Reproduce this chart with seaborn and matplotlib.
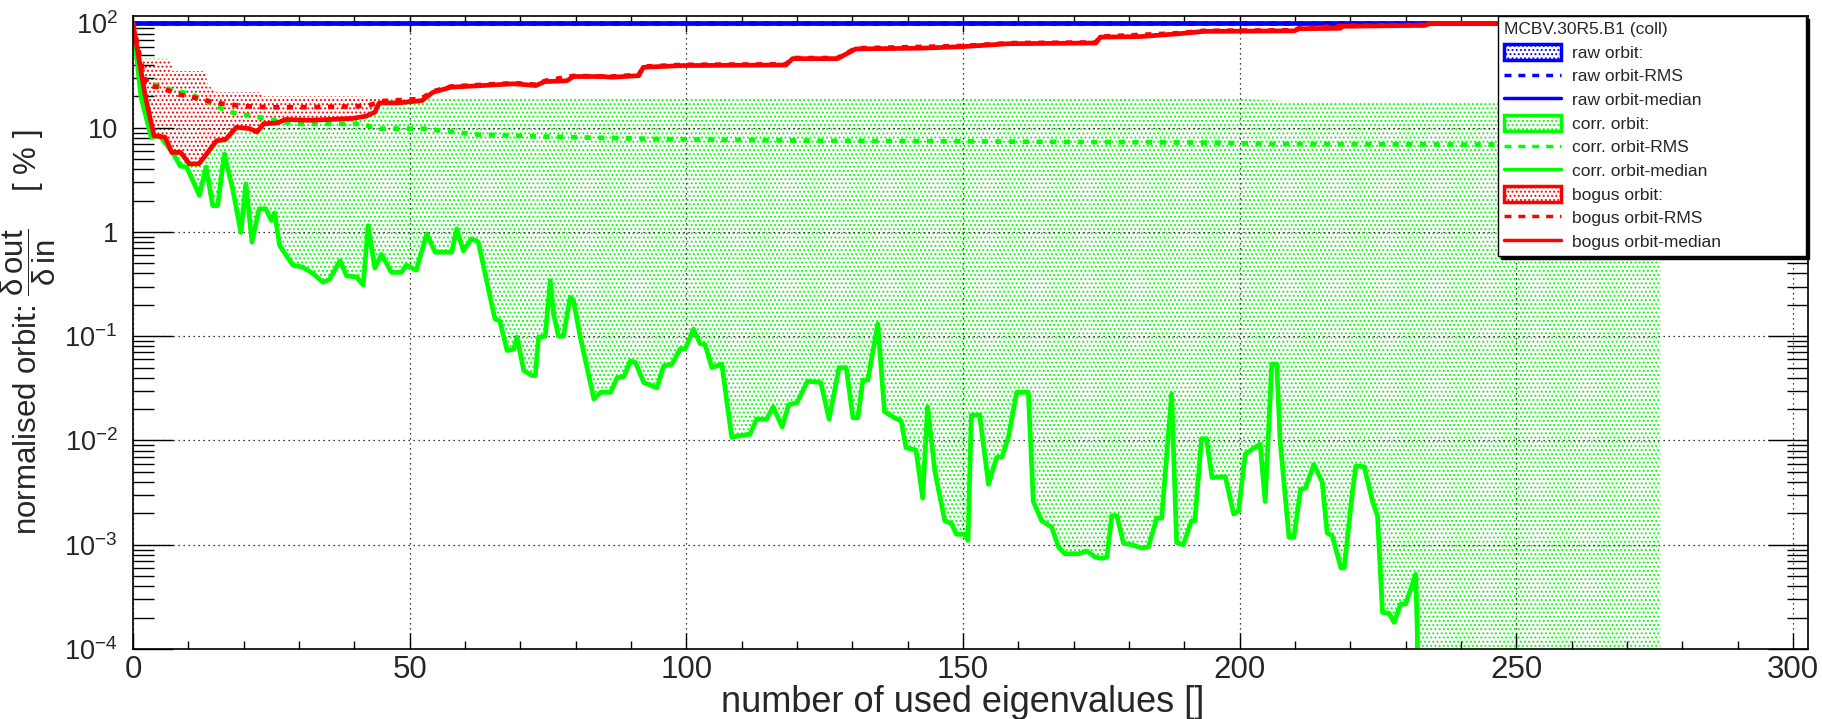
import numpy as np
import matplotlib
matplotlib.use("Agg")
import matplotlib.pyplot as plt
import seaborn as sns
from matplotlib.patches import Patch
from matplotlib.lines import Line2D
from matplotlib.ticker import FixedLocator, FixedFormatter, MultipleLocator, NullFormatter

# ---------------- data ----------------
raw_x = [0, 276]
raw_median = [100, 100]
raw_rms = [100, 100]

corr_median_x = [0, 1.45, 3.3, 4.8, 6.6, 7.5, 8.5, 9.7, 12.0, 13.2, 14.4, 15.3, 16.5, 18.0, 19.5,
                 20.4, 21.5, 22.8, 24.0, 25.0, 25.6, 26.5, 28.9, 30.7, 32.5, 34.3, 35.5, 37.4,
                 38.6, 40.4, 41.6, 42.5, 43.7, 44.9, 46.7, 48.5, 49.4, 51.2, 53.1, 54.6, 57.6,
                 58.5, 59.7, 61.2, 62.4, 65.4, 66.3, 67.6, 68.8, 69.4, 70.6, 72.1, 72.7, 73.3,
                 74.5, 75.4, 76.0, 76.9, 77.8, 79.0, 79.6, 80.8, 83.3, 84.5, 86.3, 87.5, 88.7,
                 89.9, 90.8, 92.3, 94.7, 95.9, 97.4, 98.9, 99.8, 101.3, 102.5, 103.4, 104.6,
                 106.4, 108.2, 109.1, 111.5, 112.7, 114.5, 115.7, 117.3, 118.5, 120.0, 121.9,
                 124.3, 125.8, 127.6, 128.9, 130.1, 131.0, 131.9, 132.8, 134.6, 135.8, 137.6,
                 138.8, 139.7, 141.5, 142.7, 143.6, 144.9, 146.7, 147.9, 148.8, 150.3, 150.9,
                 151.5, 153.0, 154.6, 156.1, 157.0, 158.2, 159.7, 161.8, 162.7, 164.2, 166.0,
                 167.3, 168.4, 170.9, 172.4, 173.9, 175.1, 176.0, 176.9, 177.8, 179.0, 180.5,
                 182.3, 183.5, 185.0, 185.9, 187.7, 188.6, 189.8, 191.3, 191.9, 193.1, 194.0,
                 195.0, 197.4, 198.9, 199.8, 201.0, 202.2, 203.7, 204.6, 205.8, 206.7, 207.3,
                 208.9, 209.8, 211.0, 211.9, 213.4, 214.9, 215.8, 216.7, 218.3, 218.9, 220.4,
                 221.0, 222.5, 224.0, 224.9, 225.8, 227.0, 227.9, 229.1, 230.0, 231.8, 232.1,
                 232.5, 276]
corr_median = [100, 19.6, 8.1, 8.4, 6.3, 5.4, 4.3, 4.2, 2.24, 4.2, 1.79, 1.79, 5.6, 2.6, 0.99,
               2.9, 0.8, 1.67, 1.67, 1.29, 1.52, 0.74, 0.48, 0.46, 0.40, 0.33, 0.35, 0.53,
               0.38, 0.37, 0.31, 1.15, 0.45, 0.61, 0.41, 0.41, 0.48, 0.43, 0.96, 0.64, 0.64,
               1.07, 0.66, 0.86, 0.80, 0.147, 0.14, 0.073, 0.075, 0.098, 0.047, 0.042, 0.042, 0.098,
               0.10, 0.34, 0.164, 0.10, 0.10, 0.236, 0.22, 0.10, 0.025, 0.029, 0.029, 0.040, 0.041,
               0.058, 0.056, 0.036, 0.032, 0.052, 0.054, 0.076, 0.076, 0.117, 0.085, 0.083, 0.050,
               0.054, 0.0107, 0.011, 0.0115, 0.016, 0.016, 0.021, 0.0135, 0.022, 0.023, 0.037,
               0.036, 0.016, 0.050, 0.050, 0.0165, 0.0165, 0.038, 0.038, 0.131, 0.019, 0.0165,
               0.0155, 0.0085, 0.0081, 0.0028, 0.021, 0.0051, 0.0017, 0.0016, 0.00126, 0.00126, 0.0011,
               0.0175, 0.0175, 0.0038, 0.0069, 0.0069, 0.0107, 0.029, 0.029, 0.0026, 0.0017, 0.00148,
               0.00094, 0.00082, 0.00082, 0.00087, 0.00076, 0.00074, 0.00076, 0.0019, 0.0019, 0.00103, 0.0010,
               0.00093, 0.00095, 0.0018, 0.0018, 0.028, 0.00105, 0.0010, 0.0017, 0.0017, 0.0104, 0.0104,
               0.0044, 0.0045, 0.00197, 0.0021, 0.0074, 0.0082, 0.0092, 0.0026, 0.054, 0.054, 0.010,
               0.00118, 0.00118, 0.0034, 0.0035, 0.0059, 0.0040, 0.0013, 0.00122, 0.0006, 0.0006, 0.0033,
               0.0057, 0.0056, 0.0026, 0.0019, 0.000224, 0.00022, 0.00018, 0.00027, 0.00027, 0.00052, 0.000139,
               1e-7, 1e-7]

corr_max_x = [0, 0.5, 6.5, 6.6, 13.0, 13.5, 15.0, 23.0, 23.5, 45.0, 100.0, 200.0, 210.0, 276.0]
corr_max = [100, 46, 46, 35, 35, 26, 22, 22, 20, 19.5, 19.2, 19.0, 17.8, 17.8]

corr_rms_x = [0, 1.75, 5, 10.5, 16.8, 18.9, 21.1, 29, 41, 44.6, 52.5, 62.3, 72, 80, 94.6, 104,
              124.5, 150, 170, 195, 205, 240, 276]
corr_rms = [100, 29.5, 24.4, 21, 14.6, 13.6, 13.1, 10.9, 10.9, 9.8, 9.8, 8.6, 8.3, 8.1, 7.8, 7.7,
            7.5, 7.4, 7.3, 7.2, 7.0, 6.9, 6.9]

bogus_median_x = [0, 2.2, 3.8, 5.8, 7.0, 8.6, 10.2, 11.9, 13.5, 15.1, 16.7, 18.7, 21.1, 22.4, 23.6,
                  26.0, 27.6, 31.6, 35.7, 39.7, 42.1, 43.7, 44.5, 47.8, 52.2, 54.2, 57.5, 63.1, 68.8,
                  72.8, 74.4, 78.4, 79.6, 84.9, 86.5, 91.4, 92.2, 99.4, 118, 119.2, 127.3, 130.6,
                  142.6, 150, 158.3, 174, 174.8, 182.2, 189.3, 193.4, 209.9, 210.7, 218.2, 218.6,
                  233.5, 234.3, 276]
bogus_median = [100, 20.4, 8.4, 8.1, 5.8, 5.8, 4.5, 4.5, 5.8, 7.5, 7.7, 10.1, 9.8, 9.1, 10.9,
                11.1, 12.0, 11.8, 12.0, 12.3, 12.9, 14.1, 17.3, 17.3, 18.2, 21.9, 24.5, 25.4, 26.4,
                25.4, 27.7, 28.2, 31, 31, 30.5, 31.6, 38, 39.5, 40, 46, 46, 57,
                58, 60, 64, 65, 74, 75, 80, 84, 85, 89, 90, 94,
                96, 100, 100]

bogus_max_x = [0, 1.5, 7.0, 7.1, 13.0, 13.5, 15.0, 23.0, 23.5, 40.0, 44.5]
bogus_max = [100, 45, 45, 35, 35, 26, 22, 22, 20, 20, 19.5]
bogus_min_x = [0, 2.2, 3.8, 5.8, 7.0, 8.6, 10.2, 11.9, 13.5, 15.1, 16.7, 18.7, 21.1, 22.4, 23.6,
               26.0, 27.6, 31.6, 35.7, 39.7, 42.1, 43.7, 44.5]
bogus_min = [100, 20.4, 8.4, 8.1, 5.8, 5.8, 4.5, 4.5, 5.8, 7.5, 7.7, 10.1, 9.8, 9.1, 10.9,
             11.1, 12.0, 11.8, 12.0, 12.3, 12.9, 14.1, 17.3]

bogus_rms_x = [0, 2, 3, 5, 8, 12, 15, 20, 25, 30, 40, 43, 45, 52, 54.2, 57.5, 63, 69, 73, 74.4,
               79.6, 86.5, 91.4, 92.2, 99.4, 118, 119.2, 127.3, 130.6, 150, 158.3, 174, 174.8,
               189.3, 193.4, 209.9, 210.7, 218.6, 233.5, 234.3, 276]
bogus_rms = [100, 30.5, 25, 24.5, 21, 19, 17.3, 16.1, 15.7, 15.7, 16, 16.6, 18, 18.9, 22.3, 24.9,
             25.8, 26.8, 25.8, 28.1, 31.4, 31.0, 32.1, 38.6, 40.1, 40.6, 46.6, 46.6, 57.8, 60.8, 64.8,
             65.8, 74.8, 80.8, 85.0, 86.0, 89.8, 94.8, 96.8, 100, 100]

y_tick_values = [1e-4, 1e-3, 1e-2, 1e-1, 1, 10, 100]
y_tick_labels = [r"$\mathregular{10^{-4}}$", r"$\mathregular{10^{-3}}$", r"$\mathregular{10^{-2}}$",
                 r"$\mathregular{10^{-1}}$", "1", "10", r"$\mathregular{10^{2}}$"]
x_tick_values = [0, 50, 100, 150, 200, 250, 300]

legend_title = "MCBV.30R5.B1 (coll)"
legend_labels = ["raw orbit:", "raw orbit-RMS", "raw orbit-median",
                 "corr. orbit:", "corr. orbit-RMS", "corr. orbit-median",
                 "bogus orbit:", "bogus orbit-RMS", "bogus orbit-median"]

# ---------------- style ----------------
sns.set_style("ticks")
plt.rcParams["font.family"] = ["Liberation Sans", "DejaVu Sans"]
plt.rcParams["mathtext.fontset"] = "custom"
plt.rcParams["mathtext.rm"] = "Liberation Sans"
plt.rcParams["mathtext.it"] = "Liberation Sans:italic"
plt.rcParams["mathtext.bf"] = "Liberation Sans:bold"
plt.rcParams["mathtext.sf"] = "Liberation Sans"
plt.rcParams["hatch.linewidth"] = 0.9

BLUE = (0, 0, 1)
GREEN = (0, 1, 0)
RED = (1, 0, 0)
DASH = (0, (1.3, 1.6))

fig = plt.figure(figsize=(18.22, 7.19), dpi=100)
ax = fig.add_axes([133 / 1822, 1 - 649 / 719, (1808 - 133) / 1822, (649 - 16) / 719])
ax.set_yscale("log")

# fills (polygons from upper edge + reversed lower edge)
gx = list(corr_max_x) + list(corr_median_x[::-1])
gy = list(corr_max) + list(corr_median[::-1])
ax.fill(gx, gy, facecolor="white", edgecolor=GREEN, hatch="....", linewidth=0, zorder=1)

rx = list(bogus_max_x) + list(bogus_min_x[::-1])
ry = list(bogus_max) + list(bogus_min[::-1])
ax.fill(rx, ry, facecolor="white", edgecolor=RED, hatch="....", linewidth=0, zorder=1.1)

# lines
LW = 3.4
sns.lineplot(x=raw_x, y=raw_rms, ax=ax, color=BLUE, lw=LW, linestyle=DASH, estimator=None, sort=False, zorder=2)
sns.lineplot(x=raw_x, y=raw_median, ax=ax, color=BLUE, lw=LW, estimator=None, sort=False, zorder=2)
sns.lineplot(x=corr_rms_x, y=corr_rms, ax=ax, color=GREEN, lw=LW, linestyle=DASH, estimator=None, sort=False, zorder=2.1)
sns.lineplot(x=corr_median_x, y=corr_median, ax=ax, color=GREEN, lw=LW, estimator=None, sort=False, zorder=2.1)
sns.lineplot(x=bogus_rms_x, y=bogus_rms, ax=ax, color=RED, lw=LW, linestyle=DASH, estimator=None, sort=False, zorder=2.2)
sns.lineplot(x=bogus_median_x, y=bogus_median, ax=ax, color=RED, lw=LW, estimator=None, sort=False, zorder=2.2)

ax.set_xlim(0, 302.7)
ax.set_ylim(1e-4, 118)

# ticks
ax.xaxis.set_major_locator(FixedLocator(x_tick_values))
ax.xaxis.set_minor_locator(MultipleLocator(10))
ax.yaxis.set_major_locator(FixedLocator(y_tick_values))
ax.yaxis.set_major_formatter(FixedFormatter(y_tick_labels))
minor_y = [m * 10.0 ** e for e in range(-4, 3) for m in range(2, 10)]
ax.yaxis.set_minor_locator(FixedLocator(minor_y))
ax.yaxis.set_minor_formatter(NullFormatter())

ax.tick_params(axis="both", which="both", direction="in", top=True, right=True, color="black", width=1.0)
ax.tick_params(axis="x", which="major", length=11.5, labelsize=22.5, pad=4)
ax.tick_params(axis="x", which="minor", length=5.5)
ax.tick_params(axis="y", which="major", length=29, labelsize=19.5, pad=11)
ax.tick_params(axis="y", which="minor", length=15)

for sp in ax.spines.values():
    sp.set_color("black")
    sp.set_linewidth(1.2)

ax.set_axisbelow("line")
ax.grid(True, which="major", color="black", linestyle=(0, (1, 3)), linewidth=0.9)
ax.grid(False, which="minor")

ax.set_xlabel("number of used eigenvalues []", fontsize=26)
ax.xaxis.set_label_coords(0.4955, -0.057)
ax.set_ylabel(r"normalised orbit: $\dfrac{\mathregular{\delta\,out}}{\mathregular{\delta\,in}}$    [ % ]",
              fontsize=22.5)
ax.yaxis.set_label_coords(-0.045, 0.5)

# legend
handles = [
    Patch(facecolor="white", edgecolor=BLUE, hatch="....", linewidth=2.5),
    Line2D([], [], color=BLUE, lw=2.5, linestyle=(0, (2.0, 2.0))),
    Line2D([], [], color=BLUE, lw=2.5),
    Patch(facecolor="white", edgecolor=GREEN, hatch="....", linewidth=2.5),
    Line2D([], [], color=GREEN, lw=2.5, linestyle=(0, (2.0, 2.0))),
    Line2D([], [], color=GREEN, lw=2.5),
    Patch(facecolor="white", edgecolor=RED, hatch="....", linewidth=2.5),
    Line2D([], [], color=RED, lw=2.5, linestyle=(0, (2.0, 2.0))),
    Line2D([], [], color=RED, lw=2.5),
]
lx0, lx1 = 1498 / 1822, 1806 / 1822
ly_top, ly_bot = 1 - 16 / 719, 1 - 252 / 719
leg = ax.legend(handles, legend_labels, title=legend_title, loc="upper left",
                bbox_to_anchor=(lx0, ly_bot, lx1 - lx0, ly_top - ly_bot),
                bbox_transform=fig.transFigure, mode="expand",
                fontsize=12.5, title_fontsize=12.5, alignment="left",
                frameon=True, fancybox=False, framealpha=1, edgecolor="black",
                shadow={"color": "black", "alpha": 1},
                handlelength=3.3, handleheight=1.0, handletextpad=0.6,
                labelspacing=0.4, borderpad=0.35, borderaxespad=0)
leg.get_frame().set_linewidth(1.0)
leg.set_zorder(10)

fig.savefig("out.png", dpi=100)
